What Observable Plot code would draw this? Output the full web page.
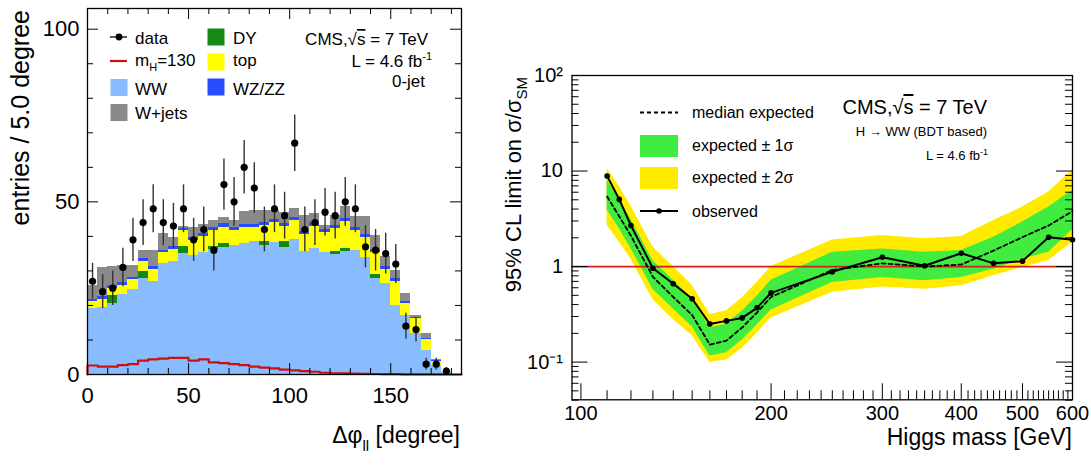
<!DOCTYPE html>
<html><head><meta charset="utf-8">
<script src="https://cdn.jsdelivr.net/npm/d3@7"></script>
<script src="https://cdn.jsdelivr.net/npm/@observablehq/plot@0.6"></script>
<style>
body{margin:0;background:#fff;}
#wrap{position:relative;width:1091px;height:467px;overflow:hidden;background:#fff;}
#wrap svg{position:absolute;top:0;}
</style></head><body><div id="wrap"></div>
<script>
// ---------- LEFT PANEL DATA (Δφll, 5-degree bins, 0-jet) ----------
const binWidth = 5;
const dataCounts = [27,24,25,31,39,44,48,44,43,48,39,42,36,55,50,60,54,42,48,46,67,42,44,47,46,50,48,37,36,35,32,14,13,3,3,1];
const wwBkg   = [19.1,19.4,20.5,23.3,24.5,27.9,26.9,32.1,32.6,35.0,34.5,35.2,36.2,36.8,37.3,37.9,38.4,37.4,38.1,36.8,39.1,35.5,36.4,35.2,34.8,35.5,35.8,34.0,27.8,26.3,20.0,17.1,11.9,7.0,2.6,0.5];
const dyBkg   = [0,0,2.5,0,0,1.9,0,0,0,2.1,0,0,1.0,1.2,0,0,0,1.2,0,1.6,0,0,0,0,0.8,0.9,0,0,1.2,0,0,0,0,0,0,0];
const topBkg  = [1.9,2.3,2.0,2.5,2.9,2.9,3.6,3.1,3.6,4.5,4.4,4.8,4.5,4.7,4.3,4.6,4.2,4.5,5.8,4.5,5.4,5.1,6.6,6.0,6.6,7.8,5.8,5.7,6.3,4.1,6.8,3.6,4.3,3.1,1.2,0.3];
const vvBkg   = [0.8,0.8,0.8,0.8,0.8,0.8,0.8,0.8,0.8,0.8,0.8,0.8,0.9,0.9,0.9,0.9,0.9,0.9,0.9,0.9,0.9,0.9,0.9,0.9,0.9,0.9,0.9,0.9,0.9,0.9,0.9,0.5,0.4,0.3,0.2,0.1];
const wjetsBkg= [4.0,8.6,5.5,5.0,3.4,2.5,4.7,4.8,2.8,0.6,2.9,2.7,2.1,1.8,2.0,3.7,3.9,3.6,2.8,3.0,2.6,4.6,2.7,1.1,3.0,3.6,3.3,5.2,4.1,2.9,2.5,2.2,0.4,1.4,0.3,0.1];
const signal130 = [2.6,2.3,2.3,2.7,3.0,4.0,4.4,4.6,4.8,4.8,4.0,4.4,3.5,3.3,3.0,2.7,2.3,2.0,1.8,1.4,1.2,1.0,0.8,0.5,0.35,0.3,0.25,0.2,0.15,0.1,0.1,0.05,0.05,0.02,0.02,0];
const stackOrder = ["WW","DY","top","WZ/ZZ","W+jets"];
const stackSeries = {"WW": wwBkg, "DY": dyBkg, "top": topBkg, "WZ/ZZ": vvBkg, "W+jets": wjetsBkg};
const procColors = {"WW":"#88bcff","DY":"#138a13","top":"#ffff00","WZ/ZZ":"#2a4cff","W+jets":"#8a8a8a"};
const xTickLabelsLeft = [0,50,100,150];
const yTickLabelsLeft = [0,50,100];

// ---------- RIGHT PANEL DATA (limits) ----------
const higgsMass = [110,115,120,130,140,150,160,170,180,190,200,250,300,350,400,450,500,550,600];
const observedLimit = [8.87,5.05,2.69,0.96,0.66,0.46,0.25,0.27,0.29,0.37,0.53,0.88,1.25,1.02,1.38,1.08,1.14,2.03,1.91];
const medianExpected = [5.4,3.35,2.1,0.78,0.48,0.31,0.152,0.168,0.23,0.33,0.48,0.92,1.08,1.0,1.05,1.47,2.03,2.69,3.8];
const expMinus2 = [2.7,1.8,1.2,0.45,0.28,0.19,0.099,0.105,0.14,0.2,0.29,0.54,0.61,0.58,0.63,0.80,0.98,1.16,1.8];
const expMinus1 = [3.9,2.5,1.55,0.58,0.36,0.235,0.116,0.125,0.17,0.245,0.35,0.68,0.77,0.71,0.77,0.94,1.2,1.41,2.43];
const expPlus1  = [8.0,5.0,3.1,1.15,0.72,0.46,0.227,0.25,0.34,0.49,0.72,1.41,1.53,1.41,1.47,2.03,2.92,4.19,6.27];
const expPlus2  = [10.6,6.9,4.3,1.6,1.0,0.64,0.314,0.345,0.47,0.68,1.0,1.9,2.12,1.95,2.06,3.04,4.19,6.02,10.2];
const xTickLabelsRight = [100,200,300,400,500,600];
const yTickLabelsRight = [0.1,1,10,100];
const yTickTextRight = {0.1:"10\u207B\u00B9",1:"1",10:"10",100:"10\u00B2"};

const FONT = "'Liberation Sans', Arial, Helvetica, sans-serif";
const wrap = document.getElementById("wrap");

// ---------- LEFT PLOT ----------
const H = 467;
const L = {w:480, ml:87, mr:19, mt:8, mb:93};
const LfH = H - L.mt - L.mb, LfW = L.w - L.ml - L.mr;
const rects = [];
dataCounts.forEach((_, i) => {
  let acc = 0;
  for (const p of stackOrder) {
    const v = stackSeries[p][i];
    if (v > 0) rects.push({x1: i*binWidth, x2: (i+1)*binWidth, y1: acc, y2: acc + v, proc: p});
    acc += v;
  }
});
const sigPts = [{x:0,y:0}];
signal130.forEach((v,i)=>{ sigPts.push({x:i*binWidth,y:v}); sigPts.push({x:(i+1)*binWidth,y:v}); });
sigPts.push({x:dataCounts.length*binWidth,y:0}); sigPts.push({x:185,y:0});
const pts = dataCounts.map((n,i)=>({x:(i+0.5)*binWidth, y:n, lo:Math.max(0,n-Math.sqrt(n)), hi:n+Math.sqrt(n)}));
const xMinorL = d3.range(10,181,10).filter(d=>d%50);
const yMinorL = d3.range(10,101,10).filter(d=>d%50);

const leftPlot = Plot.plot({
  width: L.w, height: H, marginLeft: L.ml, marginRight: L.mr, marginTop: L.mt, marginBottom: L.mb,
  x: {domain: [0,185]}, y: {domain: [0,106]},
  style: {fontFamily: FONT, fontSize: "22px", color: "black", background: "transparent", overflow: "visible"},
  marks: [
    Plot.rect(rects, {x1:"x1", x2:"x2", y1:"y1", y2:"y2", fill: d => procColors[d.proc], shapeRendering: "crispEdges"}),
    Plot.line(sigPts, {x:"x", y:"y", stroke:"#cc1010", strokeWidth:2.2}),
    Plot.ruleX(pts, {x:"x", y1:"lo", y2:"hi", stroke:"#333", strokeWidth:1.4}),
    Plot.dot(pts, {x:"x", y:"y", r:3.6, fill:"black"}),
    Plot.tickX(xMinorL, {x:d=>d, insetTop: LfH-6, stroke:"black"}),
    Plot.tickX(xTickLabelsLeft, {x:d=>d, insetTop: LfH-11, stroke:"black"}),
    Plot.tickX(xMinorL, {x:d=>d, insetBottom: LfH-6, stroke:"black"}),
    Plot.tickX(xTickLabelsLeft, {x:d=>d, insetBottom: LfH-11, stroke:"black"}),
    Plot.tickY(yMinorL, {y:d=>d, insetRight: LfW-6, stroke:"black"}),
    Plot.tickY(yTickLabelsLeft, {y:d=>d, insetRight: LfW-11, stroke:"black"}),
    Plot.tickY(yMinorL, {y:d=>d, insetLeft: LfW-6, stroke:"black"}),
    Plot.tickY(yTickLabelsLeft, {y:d=>d, insetLeft: LfW-11, stroke:"black"}),
    Plot.axisX({ticks: xTickLabelsLeft, tickSize: 0, tickPadding: 13, fontSize: 22, label: null}),
    Plot.axisY({ticks: yTickLabelsLeft, tickSize: 0, tickPadding: 8, fontSize: 22, label: null}),
    Plot.frame({stroke:"black", strokeWidth:1.3})
  ]
});
leftPlot.style.left = "0px";
wrap.appendChild(leftPlot);

// ---------- RIGHT PLOT ----------
const R = {w:611, ml:91.5, mr:19, mt:75, mb:67.7};
const RfH = H - R.mt - R.mb, RfW = R.w - R.ml - R.mr;
const limRows = higgsMass.map((m,i)=>({m, obs:observedLimit[i], med:medianExpected[i], m2:expMinus2[i], m1:expMinus1[i], p1:expPlus1[i], p2:expPlus2[i]}));
const xMinorR = d3.range(110,600,10).filter(d=>d%100);
const yMinorR = [].concat(...[0.01,0.1,1,10].map(dec => d3.range(2,10).map(k=>+(k*dec).toPrecision(3)))).filter(d=>d>=0.04 && d<100);

const rightPlot = Plot.plot({
  width: R.w, height: H, marginLeft: R.ml, marginRight: R.mr, marginTop: R.mt, marginBottom: R.mb,
  x: {type:"log", domain:[96.8,600]}, y: {type:"log", domain:[0.0403,100]},
  style: {fontFamily: FONT, fontSize: "20px", color: "black", background: "transparent", overflow: "visible"},
  marks: [
    Plot.areaY(limRows, {x:"m", y1:"m2", y2:"p2", fill:"#ffea00"}),
    Plot.areaY(limRows, {x:"m", y1:"m1", y2:"p1", fill:"#3fec3f"}),
    Plot.ruleY([1], {stroke:"#d42020", strokeWidth:1.8}),
    Plot.line(limRows, {x:"m", y:"med", stroke:"black", strokeWidth:1.8, strokeDasharray:"4,3"}),
    Plot.line(limRows, {x:"m", y:"obs", stroke:"black", strokeWidth:2}),
    Plot.dot(limRows, {x:"m", y:"obs", r:2.8, fill:"black"}),
    Plot.tickX(xMinorR, {x:d=>d, insetTop: RfH-9, stroke:"black"}),
    Plot.tickX(xTickLabelsRight, {x:d=>d, insetTop: RfH-16, stroke:"black"}),
    Plot.tickY(yMinorR, {y:d=>d, insetRight: RfW-7, stroke:"black"}),
    Plot.tickY(yTickLabelsRight, {y:d=>d, insetRight: RfW-16, stroke:"black"}),
    Plot.tickY(yMinorR, {y:d=>d, insetLeft: RfW-7, stroke:"black"}),
    Plot.tickY(yTickLabelsRight, {y:d=>d, insetLeft: RfW-16, stroke:"black"}),
    Plot.axisX({ticks: xTickLabelsRight, tickFormat: d=>String(d), tickSize: 0, tickPadding: 6, fontSize: 20, label: null}),
    Plot.axisY({ticks: yTickLabelsRight, tickFormat: d=>yTickTextRight[d], tickSize: 0, tickPadding: 9, fontSize: 20, label: null}),
    Plot.frame({stroke:"black", strokeWidth:1.3})
  ]
});
rightPlot.style.left = "480px";
wrap.appendChild(rightPlot);

// ---------- OVERLAY: titles, legends, annotations ----------
const ov = d3.create("svg").attr("width",1091).attr("height",467)
  .style("position","absolute").style("left","0px").style("top","0px")
  .attr("font-family", FONT);
function T(x, y, parts, o = {}) {
  const t = ov.append("text").attr("x",x).attr("y",y).attr("font-size",o.size||17)
    .attr("text-anchor",o.anchor||"start").attr("fill","#000");
  if (o.rotate) t.attr("transform",`rotate(${o.rotate},${x},${y})`);
  for (const p of parts) {
    if (typeof p === "string") { t.append("tspan").text(p); continue; }
    const s = t.append("tspan").text(p.t);
    if (p.dy) s.attr("dy", p.dy);
    if (p.size) s.attr("font-size", p.size);
    if (p.over) s.attr("text-decoration","overline");
  }
  return t;
}
function box(x,y,w,h,fill){ ov.append("rect").attr("x",x).attr("y",y).attr("width",w).attr("height",h).attr("fill",fill); }

// left axis titles
T(29, 10, ["entries / 5.0 degree"], {size:25, anchor:"end", rotate:-90});
T(460, 443, ["\u0394\u03C6", {t:"ll", dy:8, size:15}, {t:" [degree]", dy:-8}], {size:23, anchor:"end"});

// left legend
ov.append("line").attr("x1",110).attr("x2",127).attr("y1",37).attr("y2",37).attr("stroke","black").attr("stroke-width",1.3);
ov.append("circle").attr("cx",119).attr("cy",37).attr("r",3.4).attr("fill","black");
T(135, 44, ["data"]);
ov.append("line").attr("x1",110).attr("x2",127).attr("y1",61).attr("y2",61).attr("stroke","#cc1010").attr("stroke-width",2.2);
T(135, 66, ["m", {t:"H", dy:5, size:11}, {t:"=130", dy:-5}]);
box(110.5,79,17,17,procColors["WW"]); T(135, 95, ["WW"]);
box(110.5,104,17,17,procColors["W+jets"]); T(135, 119, ["W+jets"]);
box(207.5,28.5,17,17,procColors["DY"]); T(233, 44, ["DY"]);
box(207.5,53.5,17,17,procColors["top"]); T(233, 66, ["top"]);
box(207.5,78.5,17,17,procColors["WZ/ZZ"]); T(233, 95, ["WZ/ZZ"]);
T(428, 45, ["CMS,\u221A", {t:"s", over:true}, " = 7 TeV"], {anchor:"end"});
T(432, 67, ["L = 4.6 fb", {t:"-1", dy:-7, size:11}], {anchor:"end"});
T(425, 87, ["0-jet"], {anchor:"end"});

// right axis titles
T(521, 77, ["95% CL limit on \u03C3/\u03C3", {t:"SM", dy:6, size:15}], {size:22, anchor:"end", rotate:-90});
T(1072, 445, ["Higgs mass [GeV]"], {size:23, anchor:"end"});

// right legend
ov.append("line").attr("x1",640).attr("x2",678).attr("y1",112.5).attr("y2",112.5).attr("stroke","black").attr("stroke-width",1.8).attr("stroke-dasharray","4,3");
T(692, 118, ["median expected"], {size:16});
box(640,135,38,22,"#3fec3f"); T(692, 151, ["expected \u00B1 1\u03C3"], {size:16});
box(640,167,38,22,"#ffea00"); T(692, 183, ["expected \u00B1 2\u03C3"], {size:16});
ov.append("line").attr("x1",640).attr("x2",678).attr("y1",211).attr("y2",211).attr("stroke","black").attr("stroke-width",2);
ov.append("circle").attr("cx",659).attr("cy",211).attr("r",2.8).attr("fill","black");
T(692, 217, ["observed"], {size:16});
T(987, 114, ["CMS,\u221A", {t:"s", over:true}, " = 7 TeV"], {size:20, anchor:"end"});
T(987, 136, ["H \u2192 WW (BDT based)"], {size:13, anchor:"end"});
T(988, 160, ["L = 4.6 fb", {t:"-1", dy:-5, size:9}], {size:13, anchor:"end"});

wrap.appendChild(ov.node());
</script>
</body></html>
